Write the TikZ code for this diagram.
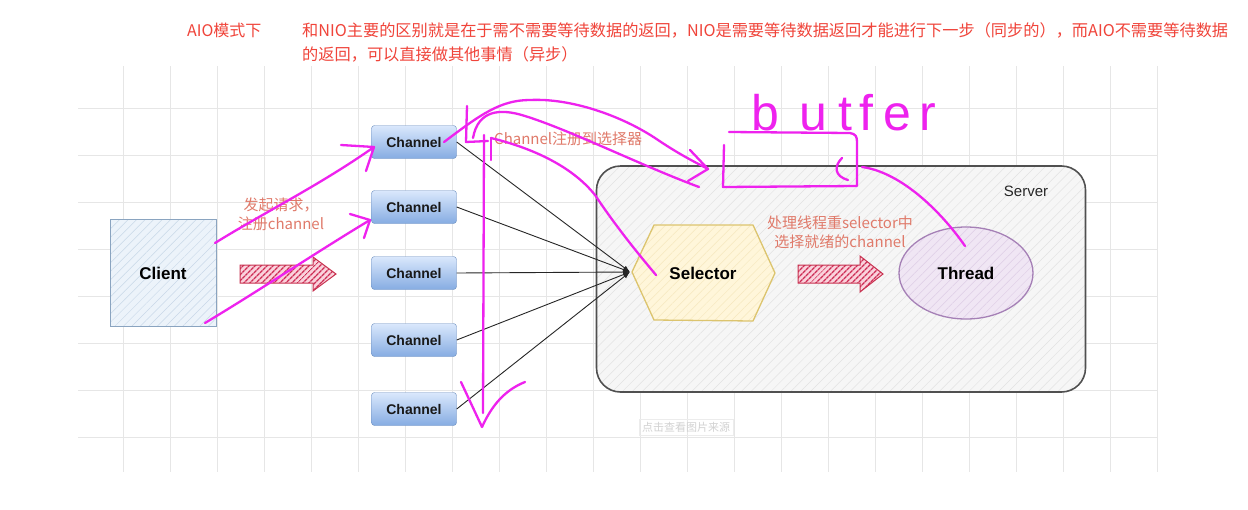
\documentclass[tikz,border=0pt]{standalone}
\usepackage{fontspec}
\setmainfont{Liberation Sans}
\newfontfamily\cjk{Noto Sans CJK SC}
\usetikzlibrary{patterns.meta,arrows.meta,shapes.geometric}
\definecolor{titlered}{HTML}{F0443A}
\definecolor{salmon}{HTML}{E07A6A}
\definecolor{mag}{HTML}{EE22EE}
\definecolor{chtop}{HTML}{DAE8FC}
\definecolor{chbot}{HTML}{86ACE2}
\definecolor{chline}{HTML}{6C8EBF}
\definecolor{gridc}{HTML}{E6E6E6}
\tikzset{
  channel/.style={draw=chline, rounded corners=3pt, top color=chtop, bottom color=chbot,
    minimum width=85pt, minimum height=33pt, inner sep=0pt,
    font=\bfseries\fontsize{14}{16}\selectfont, text=black!90},
  clientbox/.style={draw={rgb,255:red,138;green,164;blue,192}, line width=1pt,
    preaction={fill={rgb,255:red,236;green,243;blue,250}},
    pattern={Lines[angle=45,distance=6pt,line width=0.5pt]}, pattern color={rgb,255:red,200;green,216;blue,232},
    minimum width=106pt, minimum height=107pt, font=\bfseries\fontsize{17}{19}\selectfont},
  serverbox/.style={draw={rgb,255:red,80;green,80;blue,80}, line width=1.6pt, rounded corners=24pt,
    preaction={fill={rgb,255:red,246;green,246;blue,246}},
    pattern={Lines[angle=45,distance=7pt,line width=0.5pt]}, pattern color={rgb,255:red,226;green,226;blue,226},
    minimum width=489pt, minimum height=226pt},
  selbox/.style={draw={rgb,255:red,220;green,196;blue,110}, line width=1.3pt,
    preaction={fill={rgb,255:red,255;green,246;blue,218}},
    pattern={Lines[angle=45,distance=6pt,line width=0.5pt]}, pattern color={rgb,255:red,246;green,232;blue,190}},
  threadbox/.style={ellipse, draw={rgb,255:red,165;green,128;blue,182}, line width=1.3pt,
    preaction={fill={rgb,255:red,240;green,230;blue,244}},
    pattern={Lines[angle=45,distance=6pt,line width=0.5pt]}, pattern color={rgb,255:red,222;green,205;blue,230},
    minimum width=134pt, minimum height=92pt, font=\bfseries\fontsize{17}{19}\selectfont},
  hatcharrow/.style={draw={rgb,255:red,200;green,50;blue,80}, line width=1pt,
    preaction={fill={rgb,255:red,250;green,210;blue,220}},
    pattern={Lines[angle=45,distance=4pt,line width=1.4pt]}, pattern color={rgb,255:red,205;green,45;blue,85}},
  conn/.style={draw=black!85, line width=0.9pt, -{Latex[length=7pt,width=5pt]}},
  lbl/.style={text=salmon, font=\cjk\fontsize{15}{19}\selectfont, align=center, inner sep=0pt},
  pen/.style={draw=mag, line width=2.3pt, line cap=round, line join=round},
}
\begin{document}
\begin{tikzpicture}[x=1pt,y=-1pt]
\useasboundingbox (0,0) rectangle (1248,509);
\fill[white] (0,0) rectangle (1248,509);
% grid
\begin{scope}
\clip (78,66) rectangle (1158,472);
\foreach \x in {76,123,...,1160} \draw[gridc, line width=0.8pt] (\x,66) -- (\x,472);
\foreach \y in {61,108,...,480} \draw[gridc, line width=0.8pt] (78,\y) -- (1158,\y);
\end{scope}
% titles
\node[anchor=west, text=titlered, font=\cjk\fontsize{16}{18}\selectfont, inner sep=0pt] (aio) at (187,30) {AIO模式下};
\node[anchor=north west, align=left, text=titlered, font=\cjk\fontsize{16.2}{24}\selectfont, inner sep=0pt] (desc) at (302,22)
  {和NIO主要的区别就是在于需不需要等待数据的返回，NIO是需要等待数据返回才能进行下一步（同步的），而AIO不需要等待数据\\的返回，可以直接做其他事情（异步）};
% server
\node[serverbox] (server) at (841,279) {};
\node[font=\fontsize{15}{17}\selectfont, text=black!85] (serverlbl) at (1026,191) {Server};
% client
\node[clientbox] (client) at (163,273) {Client};
% hatched arrows
\path[hatcharrow] (240,265) -- (313,265) -- (313,257) -- (336,274) -- (313,291) -- (313,283) -- (240,283) -- cycle;
\path[hatcharrow] (798,265) -- (860,265) -- (860,256) -- (883,274) -- (860,292) -- (860,283) -- (798,283) -- cycle;
% selector
\path[selbox] (632,272) -- (654,225) -- (753,225) -- (775,273) -- (753,321) -- (654,320) -- cycle;
\coordinate (selw) at (630,272);
\node[font=\bfseries\fontsize{17}{19}\selectfont] (selector) at (703,273) {Selector};
% thread
\node[threadbox] (thread) at (966,273) {Thread};
% channels
\node[channel] (ch1) at (414,142) {Channel};
\node[channel] (ch2) at (414,207) {Channel};
\node[channel] (ch3) at (414,273) {Channel};
\node[channel] (ch4) at (414,340) {Channel};
\node[channel] (ch5) at (414,409) {Channel};
\foreach \c in {ch1,ch2,ch3,ch4,ch5} \draw[conn] (\c.east) -- (selw);
% labels
\node[lbl] (lblreq) at (281,214) {发起请求，\\注册channel};
\node[lbl, anchor=west] (lblreg) at (494,139) {Channel注册到选择器};
\node[lbl] (lblproc) at (840,232) {处理线程重selector中\\选择就绪的channel};
\node[draw=gray!15, text=gray!35, font=\cjk\fontsize{11}{13}\selectfont, inner sep=3pt] (wm) at (686,427) {点击查看图片来源};
% magenta pen strokes
\draw[pen] (215,243) .. controls (265,212) and (320,185) .. (374,147);
\draw[pen] (341,145) -- (374,147) -- (366,171);
\draw[pen] (205,323) .. controls (260,290) and (320,250) .. (370,220);
\draw[pen] (350,214) -- (370,220) -- (364,238);
\draw[pen] (484,135) -- (483,413);
\draw[pen] (461,382) -- (482,427) .. controls (492,405) and (505,390) .. (525,382);
\draw[pen] (467,106) -- (466,142) -- (488,141);
\draw[pen] (491,138) -- (491,160);
\draw[pen] (444,142) .. controls (480,115) and (500,100) .. (530,100) .. controls (570,98) and (620,115) .. (655,138) .. controls (680,155) and (695,162) .. (708,169);
\draw[pen] (690,150) -- (708,169) -- (688,181);
\draw[pen] (473,138) .. controls (478,110) and (500,108) .. (525,116) .. controls (570,130) and (640,165) .. (699,187);
\draw[pen] (491,138) .. controls (540,150) and (575,170) .. (595,195) .. controls (615,225) and (635,250) .. (656,275);
\draw[pen] (729,132) -- (850,133) .. controls (856,134) and (857,137) .. (857,142) -- (857,186) -- (723,187) -- (724,145);
\draw[pen] (842,158) .. controls (834,166) and (834,176) .. (848,180);
\draw[pen] (862,167) .. controls (900,172) and (940,210) .. (965,246);
\node[text=mag, font=\fontsize{50}{52}\selectfont, inner sep=0pt, anchor=west] (buffertxt) at (751,113)
  {b\hspace{20pt}u\hspace{12pt}t\hspace{7pt}f\hspace{10pt}e\hspace{8pt}r};
\end{tikzpicture}
\end{document}
